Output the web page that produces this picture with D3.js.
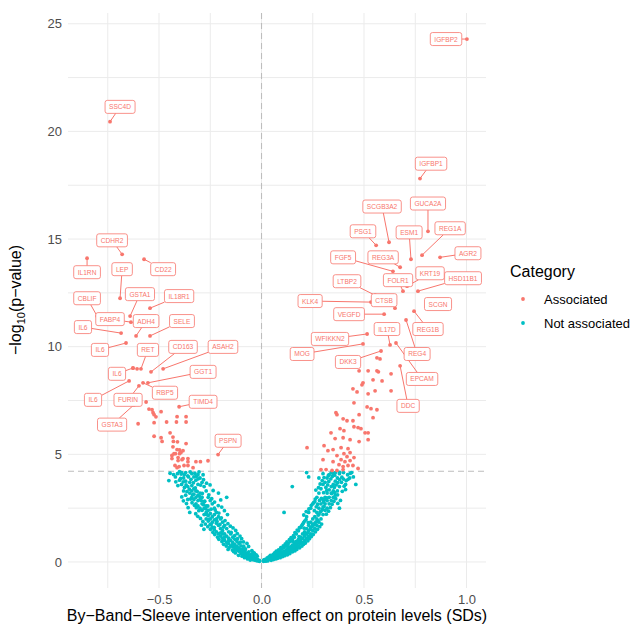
<!DOCTYPE html>
<html>
<head>
<meta charset="utf-8">
<script src="https://cdn.jsdelivr.net/npm/d3@7"></script>
<style>
  body { margin: 0; background: #fff; }
  text { font-family: "Liberation Sans", Arial, sans-serif; }
</style>
</head>
<body>
<div id="container"></div>
<script>
//******************** DATA ********************//
// labelled proteins: name, effect (SD), -log10(p)
const labelGenes = ["IGFBP2","SSC4D","IGFBP1","SCGB3A2","GUCA2A","REG1A","PSG1","ESM1","AGR2","FGF5",
  "REG3A","KRT19","FOLR1","HSD11B1","LTBP2","CTSB","KLK4","SCGN","VEGFD","REG1B",
  "IL17D","WFIKKN2","MOG","REG4","DKK3","EPCAM","DDC",
  "CDHR2","IL1RN","LEP","CD22","CBLIF","GSTA1","IL18R1","FABP4","ADH4","IL6","SELE","IL6",
  "RET","CD163","ASAH2","IL6","GGT1","IL6","RBP5","FURIN","GSTA3","TIMD4","PSPN"];
const labelEffect = [1.002,-0.739,0.773,0.622,0.812,0.783,0.559,0.729,0.871,0.641,
  0.676,0.71,0.69,0.763,0.554,0.651,0.534,0.85,0.598,0.744,
  0.627,0.515,0.495,0.705,0.583,0.656,0.676,
  -0.68,-0.851,-0.69,-0.573,-0.802,-0.641,-0.544,-0.637,-0.612,-0.685,-0.544,-0.661,
  -0.588,-0.539,-0.48,-0.627,-0.554,-0.646,-0.578,-0.598,-0.622,-0.402,-0.212];
const labelLogP = [24.29,20.45,17.81,14.85,15.36,14.25,14.71,14.06,14.15,13.5,
  13.69,12.81,12.58,12.58,12.39,11.79,12.07,12.0,11.51,11.65,
  10.08,10.59,10.13,11.24,9.8,10.17,9.11,
  14.29,14.11,12.25,14.06,11.42,11.42,11.79,11.14,10.5,10.63,10.5,10.17,
  8.97,8.83,8.97,9.01,8.32,8.41,8.32,8.18,7.3,7.21,4.99];

// other associated proteins [effect, -log10(p)]
const otherAssociated = [
  [-0.607,8.97],[-0.627,9.0],[-0.563,7.43],[-0.549,7.1],[-0.534,7.07],[-0.529,6.93],[-0.49,6.98],
  [-0.515,6.74],[-0.524,6.84],[-0.412,6.75],[-0.524,6.47],[-0.463,6.5],[-0.415,6.5],[-0.368,6.75],
  [-0.368,6.5],[-0.602,6.42],[-0.524,5.84],[-0.49,5.77],[-0.485,5.6],[-0.446,6.0],[-0.432,5.8],
  [-0.43,5.6],[-0.41,5.58],[-0.368,5.5],[-0.432,5.35],[-0.412,5.22],[-0.4,5.2],[-0.383,5.17],
  [-0.427,5.03],[-0.42,5.03],[-0.4,5.03],[-0.393,5.08],[-0.437,4.95],[-0.437,4.8],[-0.407,4.85],
  [-0.407,4.71],[-0.388,4.75],[-0.383,4.8],[-0.359,4.8],[-0.359,4.66],[-0.32,4.66],[-0.298,4.66],
  [-0.261,4.7],[-0.422,4.48],[-0.402,4.43],[-0.378,4.48],[-0.412,4.38],[-0.359,4.48],[-0.334,4.38],
  [0.563,9.48],[0.578,9.43],[0.476,8.88],[0.52,8.88],[0.563,8.88],[0.57,8.83],[0.632,8.74],
  [0.495,8.32],[0.49,8.23],[0.544,8.46],[0.588,8.41],[0.446,8.04],[0.466,7.9],[0.52,7.81],
  [0.554,7.95],[0.632,7.95],[0.451,7.39],[0.515,7.2],[0.534,7.12],[0.563,7.07],[0.363,6.93],
  [0.368,6.84],[0.476,6.84],[0.544,6.7],[0.398,6.65],[0.417,6.56],[0.446,6.56],[0.451,6.28],
  [0.471,6.24],[0.485,6.19],[0.505,6.0],[0.52,6.0],[0.52,5.68],[0.383,6.19],[0.402,6.1],
  [0.339,6.0],[0.359,5.73],[0.398,5.77],[0.432,5.68],[0.476,5.59],[0.222,5.31],[0.305,5.4],
  [0.324,5.17],[0.349,5.22],[0.388,5.31],[0.422,5.26],[0.402,5.03],[0.417,4.89],[0.432,5.08],
  [0.451,4.85],[0.368,4.94],[0.3,4.75],[0.349,4.66],[0.388,4.75],[0.407,4.66],[0.432,4.71],
  [0.378,4.52],[0.398,4.43],[0.422,4.48],[0.446,4.48],[0.29,4.29],[0.315,4.29],[0.344,4.25],
  [0.368,4.25],[0.398,4.29],[0.471,4.34]
];

// not associated proteins [effect, -log10(p)]
const notAssociated = [
  [-0.01,0.03],[-0.02,0.05],[-0.02,0.12],[-0.03,0.08],[-0.03,0.18],[-0.04,0.1],[-0.04,0.22],[-0.05,0.15],
  [-0.05,0.28],[-0.06,0.2],[-0.06,0.33],[-0.01,0.07],[-0.03,0.14],[-0.04,0.3],[-0.05,0.35],
  [-0.07,0.25],[-0.07,0.4],[-0.08,0.3],[-0.08,0.45],[-0.08,0.55],[-0.09,0.35],[-0.09,0.5],[-0.09,0.62],
  [-0.1,0.4],[-0.1,0.58],[-0.1,0.75],[-0.07,0.33],[-0.08,0.38],[-0.09,0.44],[-0.1,0.5],
  [-0.11,0.5],[-0.11,0.65],[-0.11,0.85],[-0.12,0.55],[-0.12,0.72],[-0.12,0.95],[-0.13,0.6],[-0.13,0.8],
  [-0.13,1.05],[-0.14,0.7],[-0.14,0.9],[-0.14,1.15],[-0.15,0.75],[-0.15,1.0],[-0.15,1.3],[-0.12,0.62],
  [-0.13,0.7],[-0.14,0.82],[-0.11,0.58],
  [-0.16,0.85],[-0.16,1.1],[-0.16,1.4],[-0.17,0.9],[-0.17,1.2],[-0.17,1.55],[-0.18,1.0],[-0.18,1.3],
  [-0.18,1.7],[-0.19,1.1],[-0.19,1.45],[-0.19,1.85],[-0.2,1.2],[-0.2,1.55],[-0.2,2.0],[-0.17,3.0],
  [-0.16,1.0],[-0.18,1.15],[-0.19,1.3],[-0.2,1.35],
  [-0.21,1.3],[-0.21,1.7],[-0.21,2.1],[-0.21,3.2],[-0.22,1.4],[-0.22,1.8],[-0.22,2.3],[-0.23,1.5],
  [-0.23,1.95],[-0.23,2.5],[-0.24,1.6],[-0.24,2.1],[-0.24,2.7],[-0.25,1.75],[-0.25,2.25],[-0.25,2.85],
  [-0.22,2.0],[-0.23,2.2],[-0.24,1.85],[-0.25,2.0],
  [-0.26,1.9],[-0.26,2.4],[-0.26,3.0],[-0.27,2.0],[-0.27,2.6],[-0.27,3.3],[-0.28,2.2],[-0.28,2.8],
  [-0.28,3.5],[-0.29,2.4],[-0.29,3.0],[-0.29,3.7],[-0.3,2.5],[-0.3,3.2],[-0.3,3.9],[-0.26,2.15],
  [-0.27,2.3],[-0.28,2.5],[-0.29,2.7],[-0.3,2.9],
  [-0.31,2.6],[-0.31,3.1],[-0.31,3.6],[-0.31,4.05],[-0.32,2.7],[-0.32,3.3],[-0.32,3.8],[-0.33,2.9],
  [-0.33,3.4],[-0.33,3.95],[-0.34,3.0],[-0.34,3.55],[-0.34,4.1],[-0.35,2.3],[-0.35,3.2],[-0.35,3.7],
  [-0.32,3.0],[-0.33,3.15],[-0.34,3.3],[-0.31,2.85],
  [-0.36,2.9],[-0.36,3.5],[-0.36,4.0],[-0.37,3.1],[-0.37,3.75],[-0.38,3.3],[-0.38,3.9],[-0.39,3.6],
  [-0.39,4.15],[-0.4,3.8],[-0.41,4.1],[-0.42,3.95],[-0.4,4.2],[-0.37,4.15],
  [-0.035,0.41],[-0.047,0.52],[-0.062,0.47],[-0.021,0.27],[-0.078,0.61],[-0.055,0.09],[-0.068,0.14],
  [-0.083,0.2],[-0.095,0.27],[-0.112,0.31],[-0.026,0.33],[-0.041,0.44],
  [-0.063,0.72],[-0.071,0.86],[-0.088,0.93],[-0.097,1.08],[-0.105,1.2],[-0.118,1.32],[-0.127,0.42],
  [-0.142,0.55],[-0.158,0.66],[-0.136,0.48],[-0.163,0.58],[-0.172,0.74],[-0.185,0.82],[-0.193,0.95],
  [-0.208,1.05],[-0.117,1.08],[-0.131,1.22],[-0.148,1.37],[-0.103,0.92],[-0.087,0.73],
  [-0.126,1.46],[-0.139,1.58],[-0.152,1.66],[-0.164,1.78],[-0.178,1.92],[-0.196,2.05],[-0.214,1.15],
  [-0.228,1.27],[-0.237,1.38],[-0.249,1.52],[-0.262,1.64],[-0.274,1.76],[-0.286,1.88],[-0.298,2.02],
  [-0.311,2.12],[-0.321,2.24],[-0.186,1.62],[-0.203,1.74],[-0.217,1.88],[-0.231,1.61],[-0.246,1.73],
  [-0.258,1.97],[-0.268,2.21],[-0.208,2.27],[-0.226,2.41],[-0.281,1.52],[-0.293,1.71],
  [-0.166,2.2],[-0.181,2.38],[-0.194,2.55],[-0.211,2.62],[-0.229,2.78],[-0.243,2.94],[-0.257,3.12],
  [-0.272,2.47],[-0.283,2.66],[-0.294,2.85],[-0.306,2.38],[-0.318,2.52],[-0.327,2.63],[-0.339,2.75],
  [-0.346,2.92],[-0.358,2.52],[-0.366,2.71],[-0.381,2.84],[-0.246,2.45],[-0.262,2.6],[-0.277,2.82],
  [-0.289,3.18],[-0.302,3.05],[-0.314,3.28],[-0.323,3.44],[-0.337,3.12],[-0.352,3.38],[-0.364,3.27],
  [-0.376,3.46],[-0.389,3.02],[-0.199,2.88],[-0.236,3.32],[-0.251,3.58],
  [-0.268,3.66],[-0.283,3.82],[-0.297,3.57],[-0.309,3.86],[-0.318,3.98],[-0.332,3.68],[-0.344,3.84],
  [-0.356,3.95],[-0.368,3.58],[-0.382,3.72],[-0.395,3.88],[-0.408,3.55],[-0.418,3.72],[-0.429,4.06],
  [-0.446,4.12],[-0.452,3.78],[-0.392,4.08],[-0.377,4.05],[-0.348,4.18],[-0.325,4.12],[-0.305,4.18],
  [-0.285,4.05],
  [0.01,0.03],[0.01,0.08],[0.02,0.06],[0.02,0.12],[0.03,0.09],[0.03,0.16],[0.04,0.12],[0.04,0.2],
  [0.05,0.15],[0.05,0.24],[0.06,0.18],[0.06,0.28],[0.02,0.04],[0.03,0.05],[0.04,0.16],[0.05,0.2],
  [0.07,0.2],[0.07,0.3],[0.07,0.38],[0.08,0.24],[0.08,0.34],[0.08,0.45],[0.09,0.28],[0.09,0.4],
  [0.09,0.52],[0.1,0.32],[0.1,0.45],[0.1,0.6],[0.07,0.26],[0.08,0.3],[0.09,0.35],[0.1,0.4],[0.06,0.22],
  [0.11,0.36],[0.11,0.5],[0.11,0.68],[0.11,2.3],[0.12,0.4],[0.12,0.56],[0.12,0.76],[0.13,0.45],
  [0.13,0.62],[0.13,0.85],[0.14,0.5],[0.14,0.7],[0.14,0.95],[0.15,0.55],[0.15,0.78],[0.15,1.05],
  [0.15,3.5],[0.12,0.48],[0.13,0.55],[0.14,0.6],[0.11,0.44],
  [0.16,0.6],[0.16,0.85],[0.16,1.15],[0.17,0.68],[0.17,0.95],[0.17,1.3],[0.18,0.75],[0.18,1.05],
  [0.18,1.45],[0.19,0.85],[0.19,1.15],[0.19,1.6],[0.2,0.9],[0.2,1.3],[0.2,1.75],[0.16,0.72],
  [0.17,0.8],[0.18,0.9],[0.19,1.0],[0.2,1.1],
  [0.21,1.0],[0.21,1.4],[0.21,1.9],[0.22,1.1],[0.22,1.55],[0.22,2.1],[0.22,4.15],[0.23,1.2],
  [0.23,1.7],[0.23,2.3],[0.24,1.3],[0.24,1.85],[0.24,2.5],[0.25,1.45],[0.25,2.0],[0.25,2.7],
  [0.21,1.2],[0.22,1.3],[0.23,1.45],[0.24,1.6],[0.25,1.75],[0.23,3.95],
  [0.26,1.55],[0.26,2.1],[0.26,2.8],[0.27,1.7],[0.27,2.3],[0.27,3.0],[0.28,1.85],[0.28,2.5],
  [0.28,3.2],[0.29,2.0],[0.29,2.7],[0.29,3.4],[0.3,2.2],[0.3,2.9],[0.3,3.6],[0.26,1.8],
  [0.27,2.0],[0.28,2.2],[0.29,2.35],[0.3,2.55],[0.28,3.9],[0.3,4.1],
  [0.31,2.4],[0.31,3.0],[0.31,3.7],[0.32,2.5],[0.32,3.2],[0.32,3.9],[0.33,2.7],[0.33,3.35],
  [0.33,4.05],[0.34,2.85],[0.34,3.5],[0.34,4.15],[0.35,3.0],[0.35,3.6],[0.35,4.1],[0.31,2.7],
  [0.32,2.85],[0.33,3.0],[0.34,3.2],[0.35,3.3],
  [0.36,3.1],[0.36,3.75],[0.36,4.15],[0.37,3.3],[0.37,3.9],[0.38,2.5],[0.38,3.5],[0.38,4.1],
  [0.39,3.7],[0.4,3.85],[0.4,4.15],[0.41,3.6],[0.42,4.05],[0.43,3.9],[0.46,3.6],[0.44,4.15],
  [0.015,0.11],[0.028,0.19],[0.036,0.24],[0.043,0.31],[0.057,0.35],[0.064,0.42],[0.072,0.5],
  [0.083,0.56],[0.047,0.08],[0.058,0.11],[0.069,0.14],[0.078,0.17],[0.091,0.2],[0.103,0.25],
  [0.113,0.29],[0.126,0.33],[0.052,0.29],[0.066,0.36],[0.087,0.41],
  [0.094,0.66],[0.106,0.74],[0.116,0.84],[0.124,0.93],[0.136,1.04],[0.144,1.13],[0.138,0.39],
  [0.151,0.47],[0.163,0.52],[0.172,0.58],[0.186,0.66],[0.197,0.74],[0.205,0.82],[0.214,0.88],
  [0.146,0.66],[0.157,0.73],[0.168,0.84],[0.177,0.91],[0.188,0.98],[0.128,0.71],[0.154,0.96],[0.183,1.18],
  [0.156,1.22],[0.163,1.36],[0.174,1.48],[0.185,1.59],[0.196,1.68],[0.205,1.82],[0.217,1.96],
  [0.226,0.98],[0.234,1.08],[0.243,1.18],[0.252,1.28],[0.263,1.4],[0.273,1.52],[0.284,1.64],
  [0.293,1.76],[0.212,1.28],[0.226,1.37],[0.238,1.52],[0.247,1.64],[0.256,1.72],[0.266,1.86],
  [0.275,1.92],[0.208,1.57],[0.228,1.82],
  [0.206,2.18],[0.218,2.34],[0.231,2.46],[0.243,2.63],[0.254,2.75],[0.262,2.92],[0.276,2.18],
  [0.286,2.32],[0.297,2.44],[0.305,2.58],[0.316,2.22],[0.327,2.36],[0.336,2.52],[0.344,2.68],
  [0.353,2.82],[0.362,2.94],[0.258,2.38],[0.267,2.56],[0.274,2.68],[0.283,2.86],[0.292,2.95],
  [0.302,2.78],[0.311,2.9],[0.319,2.98],[0.372,2.72],[0.385,2.86],
  [0.265,3.34],[0.278,3.45],[0.286,3.62],[0.296,3.78],[0.305,3.92],[0.314,3.46],[0.323,3.58],
  [0.328,3.74],[0.338,3.86],[0.346,3.98],[0.355,3.46],[0.364,3.58],[0.372,3.68],[0.381,3.82],
  [0.392,3.94],[0.403,3.52],[0.413,3.78],[0.422,3.84],[0.433,4.12],[0.448,3.95],[0.303,3.22],
  [0.318,3.32],[0.342,3.18],[0.357,3.22],[0.371,3.12],[0.394,3.28],[0.41,3.36],[0.326,4.02],
  [0.357,4.03],[0.381,4.16]
];

const threshold = 4.21;               // -log10 of the corrected p cut-off
const xTicks = [-0.5, 0, 0.5, 1.0];
const xTickLabels = ["\u22120.5", "0.0", "0.5", "1.0"];
const yTicks = [0, 5, 10, 15, 20, 25];
const categories = ["Associated", "Not associated"];

//******************** LAYOUT ********************//
// where the repelled labels ended up (data units)
const labelPos = [[0.9,24.29],[-0.69,21.14],[0.827,18.5],[0.588,16.51],[0.812,16.65],[0.92,15.5],
  [0.495,15.36],[0.72,15.31],[1.007,14.34],[0.398,14.15],[0.593,14.15],[0.822,13.41],[0.666,13.09],
  [0.983,13.18],[0.417,13.04],[0.598,12.16],[0.237,12.12],[0.861,11.98],[0.427,11.51],[0.812,10.82],
  [0.612,10.82],[0.334,10.36],[0.198,9.66],[0.759,9.66],[0.422,9.29],[0.783,8.5],[0.715,7.25],
  [-0.729,14.94],[-0.851,13.46],[-0.68,13.6],[-0.48,13.6],[-0.851,12.25],[-0.593,12.44],[-0.402,12.35],
  [-0.739,11.28],[-0.563,11.19],[-0.871,10.91],[-0.388,11.19],[-0.788,9.85],
  [-0.554,9.85],[-0.383,9.99],[-0.188,9.99],[-0.705,8.74],[-0.285,8.83],[-0.822,7.53],[-0.471,7.86],
  [-0.651,7.53],[-0.729,6.38],[-0.285,7.44],[-0.163,5.63]];

const W = 632, H = 625;
const red = "#F8766D", teal = "#00BFC4";
const ptR = 1.9;

const svg = d3.select("#container")
    .append("svg")
    .attr("width", W)
    .attr("height", H);

//---------- SCALES ----------//
const xScale = d3.scaleLinear().domain([-0.944, 1.095]).range([68, 486]);
const yScale = d3.scaleLinear().domain([-1.21, 25.5]).range([588, 13]);

//---------- GRID ----------//
const grid = svg.append("g");
d3.range(-0.75, 1.01, 0.25).forEach(v => {
    grid.append("line")
        .attr("x1", xScale(v)).attr("x2", xScale(v))
        .attr("y1", 13).attr("y2", 588)
        .attr("stroke", "#EBEBEB").attr("stroke-width", 1);
});
d3.range(0, 25.1, 2.5).forEach(v => {
    grid.append("line")
        .attr("x1", 68).attr("x2", 486)
        .attr("y1", yScale(v)).attr("y2", yScale(v))
        .attr("stroke", "#EBEBEB").attr("stroke-width", 1);
});

//---------- AXES ----------//
const xAxis = d3.axisBottom(xScale).tickValues(xTicks)
    .tickFormat((d, i) => xTickLabels[i]).tickSize(0).tickPadding(0);
svg.append("g")
    .attr("transform", "translate(0,596)")
    .call(xAxis)
    .call(g => g.select(".domain").remove())
    .selectAll("text")
    .attr("fill", "#4D4D4D").attr("font-size", 13)
    .attr("dy", "0.71em").attr("y", -1);

const yAxis = d3.axisLeft(yScale).tickValues(yTicks).tickSize(0).tickPadding(0);
svg.append("g")
    .attr("transform", "translate(62,0)")
    .call(yAxis)
    .call(g => g.select(".domain").remove())
    .selectAll("text")
    .attr("fill", "#4D4D4D").attr("font-size", 13);

svg.append("text")
    .attr("x", 277).attr("y", 621)
    .attr("text-anchor", "middle")
    .attr("font-size", 16)
    .text("By\u2212Band\u2212Sleeve intervention effect on protein levels (SDs)");

const yTitle = svg.append("text")
    .attr("transform", "translate(21,300) rotate(-90)")
    .attr("text-anchor", "middle")
    .attr("font-size", 16);
yTitle.append("tspan").text("\u2212log");
yTitle.append("tspan").attr("font-size", 11).attr("dy", 4).text("10");
yTitle.append("tspan").attr("dy", -4).text("(p\u2212value)");

//---------- REFERENCE LINES ----------//
svg.append("line")
    .attr("x1", xScale(0)).attr("x2", xScale(0))
    .attr("y1", 13).attr("y2", 588)
    .attr("stroke", "#BDBDBD").attr("stroke-width", 1.1)
    .attr("stroke-dasharray", "6,4");
svg.append("line")
    .attr("x1", 68).attr("x2", 486)
    .attr("y1", yScale(threshold)).attr("y2", yScale(threshold))
    .attr("stroke", "#BDBDBD").attr("stroke-width", 1.1)
    .attr("stroke-dasharray", "6,4");

//---------- POINTS ----------//
const pts = svg.append("g");
pts.selectAll(".na")
    .data(notAssociated)
    .join("circle")
    .attr("cx", d => xScale(d[0]))
    .attr("cy", d => yScale(d[1]))
    .attr("r", ptR)
    .attr("fill", teal);
pts.selectAll(".as")
    .data(otherAssociated)
    .join("circle")
    .attr("cx", d => xScale(d[0]))
    .attr("cy", d => yScale(d[1]))
    .attr("r", ptR)
    .attr("fill", red);
pts.selectAll(".lab")
    .data(labelGenes)
    .join("circle")
    .attr("cx", (d, i) => xScale(labelEffect[i]))
    .attr("cy", (d, i) => yScale(labelLogP[i]))
    .attr("r", ptR)
    .attr("fill", red);

//---------- LABELS ----------//
const segs = svg.append("g");
const boxes = svg.append("g");
labelGenes.forEach((name, i) => {
    const cx = xScale(labelPos[i][0]), cy = yScale(labelPos[i][1]);
    const g = boxes.append("g");
    const rect = g.append("rect");
    const t = g.append("text")
        .attr("x", cx).attr("y", cy)
        .attr("text-anchor", "middle")
        .attr("dominant-baseline", "central")
        .attr("font-size", 6.6)
        .attr("fill", red)
        .text(name);
    const tw = t.node().getComputedTextLength();
    const hw = tw / 2 + 4, hh = 6.5;
    rect.attr("x", cx - hw).attr("y", cy - hh)
        .attr("width", hw * 2).attr("height", hh * 2)
        .attr("rx", 2.2)
        .attr("fill", "white")
        .attr("stroke", red).attr("stroke-width", 0.8);

    // segment from the point to the edge of its box
    const px = xScale(labelEffect[i]), py = yScale(labelLogP[i]);
    const dx = cx - px, dy = cy - py;
    const s = Math.min(dx ? hw / Math.abs(dx) : Infinity, dy ? hh / Math.abs(dy) : Infinity);
    if (s < 1) {
        const ex = cx - dx * s, ey = cy - dy * s;
        if (Math.hypot(ex - px, ey - py) > 3) {
            segs.append("line")
                .attr("x1", px).attr("y1", py)
                .attr("x2", ex).attr("y2", ey)
                .attr("stroke", red).attr("stroke-width", 1);
        }
    }
});

//---------- LEGEND ----------//
const legend = svg.append("g");
legend.append("text")
    .attr("x", 510).attr("y", 277)
    .attr("font-size", 16)
    .text("Category");
categories.forEach((c, i) => {
    legend.append("circle")
        .attr("cx", 523).attr("cy", 299 + i * 24)
        .attr("r", ptR)
        .attr("fill", i === 0 ? red : teal);
    legend.append("text")
        .attr("x", 544).attr("y", 303.5 + i * 24)
        .attr("font-size", 13)
        .text(c);
});
</script>
</body>
</html>
